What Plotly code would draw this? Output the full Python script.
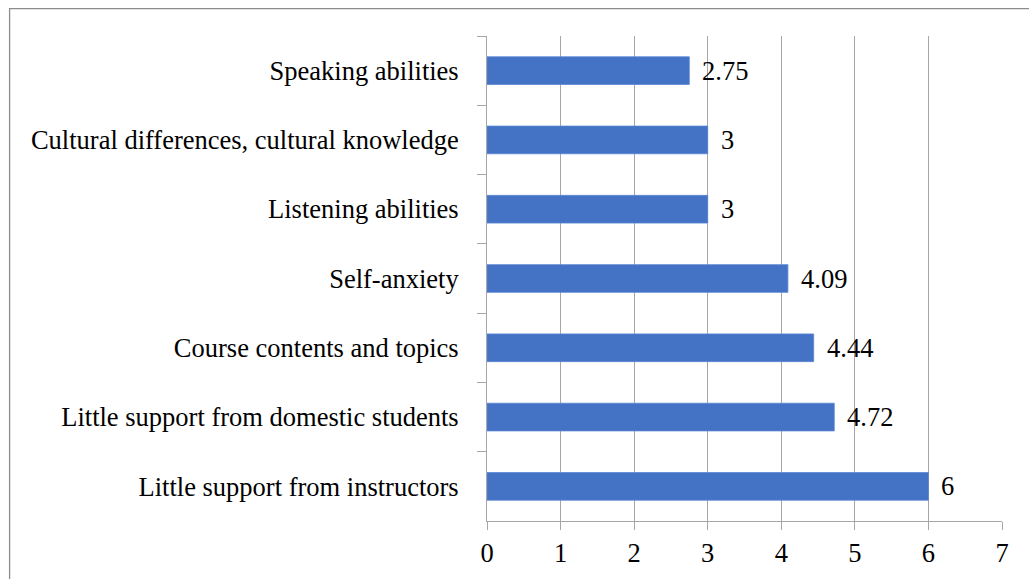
import plotly.graph_objects as go

categories = [
    "Speaking abilities",
    "Cultural differences, cultural knowledge",
    "Listening abilities",
    "Self-anxiety",
    "Course contents and topics",
    "Little support from domestic students",
    "Little support from instructors",
]
values = [2.75, 3, 3, 4.09, 4.44, 4.72, 6]
x_ticks = [0, 1, 2, 3, 4, 5, 6, 7]

FONT = "Times New Roman, Liberation Serif, DejaVu Serif, serif"
GRID = "#a6a6a6"

fig = go.Figure()
fig.add_trace(go.Bar(
    x=values,
    y=categories,
    orientation="h",
    width=0.4,
    marker=dict(color="#4472C4", line=dict(color="#5b86d6", width=0.8)),
    hoverinfo="x+y",
))

for v, c in zip(values, categories):
    fig.add_annotation(
        x=v, y=c, text=f"{v:g}", showarrow=False,
        xanchor="left", yanchor="middle", xshift=11,
        font=dict(family=FONT, size=26.5, color="#000000"),
    )

fig.update_layout(
    width=1029, height=579,
    margin=dict(l=487, r=27, t=36, b=58, autoexpand=False),
    paper_bgcolor="white",
    plot_bgcolor="white",
    showlegend=False,
    font=dict(family=FONT, size=26.5, color="#000000"),
    bargap=0.6,
    xaxis=dict(
        range=[0, 7],
        tickvals=x_ticks,
        ticktext=[str(t) for t in x_ticks],
        showgrid=True, gridcolor=GRID, gridwidth=1,
        zeroline=False,
        showline=True, linecolor=GRID, linewidth=1,
        ticks="outside", ticklen=8, tickcolor=GRID, tickwidth=1,
        tickfont=dict(family=FONT, size=26.5, color="#000000"),
        fixedrange=True,
    ),
    yaxis=dict(
        type="category",
        categoryorder="array",
        categoryarray=categories,
        autorange="reversed",
        tickson="boundaries",
        showgrid=False,
        showline=True, linecolor=GRID, linewidth=1,
        ticks="outside", ticklen=9, tickcolor=GRID, tickwidth=1,
        tickfont=dict(family=FONT, size=26.5, color="#000000"),
        ticklabelstandoff=22,
        fixedrange=True,
    ),
    shapes=[dict(
        type="rect", xref="paper", yref="paper",
        x0=-0.927, x1=1.2, y0=-0.3, y1=1.0566,
        line=dict(color="#8c8c8c", width=1.3),
        fillcolor="rgba(0,0,0,0)", layer="below",
    )],
)

fig.write_html("out.html")
